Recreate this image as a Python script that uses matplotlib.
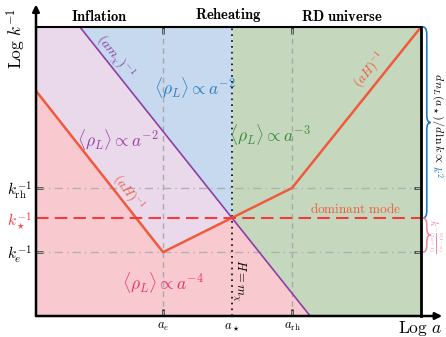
import numpy as np
import matplotlib.pyplot as plt
from matplotlib.path import Path
from matplotlib.patches import PathPatch

plt.rcParams['mathtext.fontset'] = 'cm'
plt.rcParams['font.family'] = 'serif'

# key positions (log a, log k^-1)
a_e, a_star, a_rh = 3.30, 5.09, 6.65
k_e, k_star, k_rh = 2.21, 3.39, 4.43
xmax, ymax = 10.0, 10.0

# (aH)^-1 : inflation -> reheating -> RD
aH_x = [0.0, a_e, a_rh, xmax]
aH_y = [7.79, k_e, k_rh, ymax]
# (a m_chi)^-1
am_x = [1.14, 7.12]
am_y = [ymax, 0.0]

c_pink = '#f9c9d0'
c_lav = '#ead9ea'
c_blue = '#c6d9ee'
c_green = '#c5d8be'
c_red = '#f05a3c'
c_purple = '#8e3fa3'

fig = plt.figure(figsize=(4.46, 3.37), dpi=100)
ax = fig.add_axes([36/446, 21/337, 385/446, 289/337])
ax.set_xlim(0, xmax)
ax.set_ylim(0, ymax)

x = np.union1d(np.linspace(0, xmax, 801), [a_e, a_star, a_rh] + am_x)
red = np.interp(x, aH_x, aH_y)
slope = (am_y[1] - am_y[0]) / (am_x[1] - am_x[0])
pur = am_y[0] + slope * (x - am_x[0])
pur_c = np.clip(pur, 0, ymax)
left = x <= a_star
right = x >= a_star

ax.fill_between(x, 0, np.minimum(red, pur_c), color=c_pink, lw=0)
ax.fill_between(x, red, pur_c, where=left & (pur_c > red), color=c_lav, lw=0)
ax.fill_between(x, pur_c, ymax, where=left, color=c_blue, lw=0)
ax.fill_between(x, pur_c, ymax, where=right, color=c_green, lw=0)

# guides
for xv in [a_e, a_rh]:
    ax.axvline(xv, color='#a9a9a9', lw=1.0, ls=(0, (4, 3)))
for yv in [k_rh, k_e]:
    ax.axhline(yv, color='#b0b0b0', lw=1.0, ls=(0, (6, 3, 1, 3)))
ax.axvline(a_star, color='k', lw=1.2, ls=(0, (1, 2.5)))

ax.plot(am_x, am_y, color=c_purple, lw=1.2)
ax.plot(aH_x, aH_y, color=c_red, lw=1.8)
ax.axhline(k_star, color='#f03c3c', lw=1.5, ls=(0, (6, 3)))

# spines / arrows
for s in ['left', 'bottom']:
    ax.spines[s].set_visible(False)
ax.spines['top'].set_linewidth(1.5)
ax.spines['right'].set_linewidth(2.0)
ax.annotate('', xy=(0, 1.078), xytext=(0, 0), xycoords='axes fraction',
            arrowprops=dict(arrowstyle='-|>', lw=1.8, color='k', mutation_scale=10,
                            shrinkA=0, shrinkB=0), annotation_clip=False)
ax.annotate('', xy=(1.055, 0), xytext=(0, 0), xycoords='axes fraction',
            arrowprops=dict(arrowstyle='-|>', lw=1.8, color='k', mutation_scale=10,
                            shrinkA=0, shrinkB=0), annotation_clip=False)

ax.set_xticks([a_e, a_star, a_rh])
ax.set_xticklabels([r'$a_e$', r'$a_\star$', r'$a_{\rm rh}$'], fontsize=9)
ax.set_yticks([k_e, k_star, k_rh])
ax.set_yticklabels([r'$k_e^{-1}$', r'$k_\star^{-1}$', r'$k_{\rm rh}^{-1}$'], fontsize=11)
ax.get_yticklabels()[1].set_color('#f03c3c')
ax.tick_params(direction='in', length=5, width=1.8, top=True, right=True,
               labeltop=False, labelright=False, pad=3, color='#222222')
for t in [ax.xaxis.get_major_ticks()[1], ax.yaxis.get_major_ticks()[1]]:
    t.tick1line.set_visible(False)
    t.tick2line.set_visible(False)

ax.text(1.054, -0.01, r'$\mathrm{Log}\ a$', transform=ax.transAxes, fontsize=12.5,
        ha='right', va='top')
ax.text(-0.052, 0.962, r'$\mathrm{Log}\ k^{-1}$', transform=ax.transAxes, fontsize=12.5,
        ha='center', va='center', rotation=90)

# phase titles
for xt, lab in [(1.64, 'Inflation'), (4.99, 'Reheating'), (7.95, r'RD\ universe')]:
    ax.text(xt, ymax + 0.12, r'$\mathbf{%s}$' % lab, fontsize=10.5, ha='center', va='bottom')

# region labels
ax.text(4.13, 7.89, r'$\langle\rho_L\rangle \propto a^{-2}$', color='#2a7cc4', fontsize=12.5,
        ha='center', va='center')
ax.text(2.13, 6.09, r'$\langle\rho_L\rangle \propto a^{-2}$', color='#9a3fa8', fontsize=12.5,
        ha='center', va='center')
ax.text(6.08, 6.26, r'$\langle\rho_L\rangle \propto a^{-3}$', color='#3a8a3a', fontsize=12.5,
        ha='center', va='center')
ax.text(3.30, 1.14, r'$\langle\rho_L\rangle \propto a^{-4}$', color='#ea2f6a', fontsize=12.5,
        ha='center', va='center')

ax.text(2.05, 8.96, r'$(am_\chi)^{-1}$', color=c_purple, fontsize=10, rotation=-51,
        ha='center', va='center')
ax.text(2.39, 4.26, r'$(aH)^{-1}$', color=c_red, fontsize=9.5, rotation=-52,
        ha='center', va='center')
ax.text(8.68, 8.51, r'$(aH)^{-1}$', color=c_red, fontsize=9.5, rotation=51,
        ha='center', va='center')
ax.text(8.31, 3.70, r'$\mathrm{dominant\ mode}$', color=c_red, fontsize=9.5,
        ha='center', va='center')
ax.text(5.25, 1.25, r'$H=m_\chi$', color='k', fontsize=9, rotation=-90,
        ha='center', va='center')


def brace(y0, y1, x0, w, color):
    ym = 0.5 * (y0 + y1)
    s = 0.25 * np.sign(y0 - y1)
    xm = x0 + w / 2
    verts = [(x0, y0), (xm, y0), (xm, y0 - s),
             (xm, ym + s), (xm, ym), (x0 + w, ym),
             (xm, ym), (xm, ym - s),
             (xm, y1 + s), (xm, y1), (x0, y1)]
    codes = [Path.MOVETO, Path.CURVE3, Path.CURVE3,
             Path.LINETO, Path.CURVE3, Path.CURVE3,
             Path.CURVE3, Path.CURVE3,
             Path.LINETO, Path.CURVE3, Path.CURVE3]
    ax.add_patch(PathPatch(Path(verts, codes), fc='none', ec=color, lw=1.2,
                           clip_on=False))


brace(ymax, k_star, xmax + 0.05, 0.2, '#1f78c8')
brace(k_star, k_e, xmax + 0.05, 0.2, '#f08aa0')
tb = ax.text(10.42, 8.40, r'$d\,n_L(a_\star)/d\,\ln k \propto$', fontsize=8.5, rotation=-90,
             ha='center', va='top', clip_on=False)
fig.canvas.draw()
bb = tb.get_window_extent(fig.canvas.get_renderer())
y_end = ax.transData.inverted().transform((0, bb.y0 - 2))[1]
ax.text(10.42, y_end, r'$k^2$', fontsize=8.5, rotation=-90, color='#1f78c8',
        ha='center', va='top', clip_on=False)
ax.text(10.37, 2.80, r'$k^{-\frac{3(1-w)}{(3w+1)}}$', fontsize=7.5, rotation=-90,
        color='#f08aa0', ha='center', va='center', clip_on=False)

fig.savefig('out.png', dpi=100)
